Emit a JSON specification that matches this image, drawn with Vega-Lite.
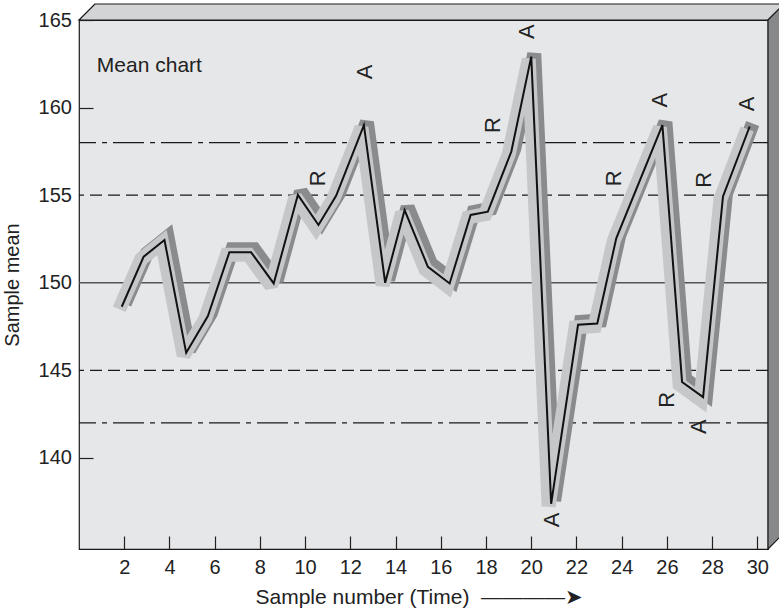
{
  "$schema": "https://vega.github.io/schema/vega-lite/v6.json",
  "width": 689,
  "height": 529,
  "autosize": {"type": "none"},
  "padding": {"left": 79, "top": 20, "right": 11, "bottom": 66},
  "background": "white",
  "config": {
    "view": {"fill": "#e6e7e8", "stroke": "#1a1a1a", "strokeWidth": 1.2},
    "font": "Liberation Sans",
    "axis": {"grid": false, "domain": false}
  },
  "datasets": {
    "means": [
      {"sample": 1.89, "mean": 148.63},
      {"sample": 2.86, "mean": 151.49},
      {"sample": 3.78, "mean": 152.44},
      {"sample": 4.74, "mean": 146.0},
      {"sample": 5.7, "mean": 148.1},
      {"sample": 6.65, "mean": 151.74},
      {"sample": 7.61, "mean": 151.74},
      {"sample": 8.61, "mean": 149.96},
      {"sample": 9.68, "mean": 155.02},
      {"sample": 10.59, "mean": 153.3},
      {"sample": 11.37, "mean": 154.96},
      {"sample": 12.6, "mean": 159.0},
      {"sample": 13.54, "mean": 150.0},
      {"sample": 14.4, "mean": 154.15},
      {"sample": 15.43, "mean": 150.91},
      {"sample": 16.39, "mean": 149.96},
      {"sample": 17.32, "mean": 153.87},
      {"sample": 18.08, "mean": 154.06},
      {"sample": 19.12, "mean": 157.49},
      {"sample": 20.0, "mean": 162.91},
      {"sample": 20.88, "mean": 137.38},
      {"sample": 22.07, "mean": 147.6},
      {"sample": 22.92, "mean": 147.67},
      {"sample": 23.76, "mean": 152.54},
      {"sample": 25.8, "mean": 159.0},
      {"sample": 26.67, "mean": 144.33},
      {"sample": 27.6, "mean": 143.47},
      {"sample": 28.48, "mean": 154.93},
      {"sample": 29.66, "mean": 158.92}
    ],
    "limits": [
      {"value": 158, "line": "upper action"},
      {"value": 155, "line": "upper warning"},
      {"value": 150, "line": "centre"},
      {"value": 145, "line": "lower warning"},
      {"value": 142, "line": "lower action"}
    ],
    "flags": [
      {"sample": 12.66, "mean": 162.03, "flag": "A"},
      {"sample": 10.59, "mean": 155.96, "flag": "R"},
      {"sample": 19.81, "mean": 164.33, "flag": "A"},
      {"sample": 18.33, "mean": 159.0, "flag": "R"},
      {"sample": 25.7, "mean": 160.43, "flag": "A"},
      {"sample": 23.64, "mean": 155.96, "flag": "R"},
      {"sample": 29.54, "mean": 160.21, "flag": "A"},
      {"sample": 27.62, "mean": 155.87, "flag": "R"},
      {"sample": 26.0, "mean": 143.31, "flag": "R"},
      {"sample": 27.4, "mean": 141.79, "flag": "A"},
      {"sample": 20.92, "mean": 136.46, "flag": "A"}
    ],
    "topFace": [
      {"sample": 0, "sample2": 30.47, "mean": 165},
      {"sample": 0.708, "sample2": 31.178, "mean": 165.913}
    ],
    "sideFace": [
      {"sample": 30.47, "mean": 134.8, "mean2": 165},
      {"sample": 31.178, "mean": 135.713, "mean2": 165.913}
    ],
    "note": [
      {"sample": 0.79, "mean": 162.05, "label": "Mean chart"}
    ]
  },
  "layer": [
    {
      "data": {"name": "means"},
      "mark": {"type": "line", "color": "#111111", "strokeWidth": 0, "opacity": 0},
      "encoding": {
        "x": {
          "field": "sample", "type": "quantitative",
          "scale": {"domain": [0, 30.47], "nice": false, "zero": false},
          "axis": {
            "title": "Sample number (Time)\u00a0\u00a0————➤",
            "values": [2, 4, 6, 8, 10, 12, 14, 16, 18, 20, 22, 24, 26, 28, 30],
            "grid": false, "domain": false,
            "tickSize": -13, "tickColor": "#222222", "tickWidth": 1.2,
            "labelPadding": 21.5, "labelFontSize": 20, "labelColor": "#222222", "labelFont": "Liberation Sans",
            "titleFont": "Liberation Sans", "titleFontSize": 21, "titleFontWeight": "normal", "titleColor": "#222222",
            "titleX": 176, "titleY": 54.7, "titleAlign": "left", "titleBaseline": "alphabetic"
          }
        },
        "y": {
          "field": "mean", "type": "quantitative",
          "scale": {"domain": [134.8, 165], "nice": false, "zero": false},
          "axis": {
            "title": "Sample mean",
            "values": [140, 145, 150, 155, 160, 165],
            "grid": false, "domain": false,
            "tickSize": -14, "tickColor": "#222222", "tickWidth": 1.2,
            "tickOpacity": {"condition": {"test": "datum.value == 145 || datum.value == 155 || datum.value == 150", "value": 0}, "value": 1},
            "labelPadding": 21.6, "labelFontSize": 20, "labelColor": "#222222", "labelFont": "Liberation Sans",
            "titleFont": "Liberation Sans", "titleFontSize": 20, "titleFontWeight": "normal", "titleColor": "#222222",
            "titleX": -60.5, "titleY": 264.5, "titleAngle": 270, "titleAlign": "center", "titleBaseline": "alphabetic"
          }
        }
      }
    },
    {
      "data": {"name": "topFace"},
      "mark": {"type": "area", "orient": "horizontal", "fill": "#d3d4d5", "stroke": "#1a1a1a", "strokeWidth": 1.2},
      "encoding": {
        "y": {"field": "mean", "type": "quantitative"},
        "x": {"field": "sample", "type": "quantitative"},
        "x2": {"field": "sample2"}
      }
    },
    {
      "data": {"name": "sideFace"},
      "mark": {"type": "area", "orient": "vertical", "fill": "#87888a", "stroke": "#1a1a1a", "strokeWidth": 1.2},
      "encoding": {
        "x": {"field": "sample", "type": "quantitative"},
        "y": {"field": "mean", "type": "quantitative"},
        "y2": {"field": "mean2"}
      }
    },
    {
      "data": {"name": "limits"},
      "mark": {"type": "rule", "strokeWidth": 1.3},
      "encoding": {
        "y": {"field": "value", "type": "quantitative"},
        "strokeDash": {
          "field": "line", "type": "nominal", "legend": null,
          "scale": {
            "domain": ["upper action", "upper warning", "centre", "lower warning", "lower action"],
            "range": [[31, 6, 5, 6], [12, 6], [1, 0], [12, 6], [31, 6, 5, 6]]
          }
        },
        "color": {
          "field": "line", "type": "nominal", "legend": null,
          "scale": {
            "domain": ["upper action", "upper warning", "centre", "lower warning", "lower action"],
            "range": ["#1a1a1a", "#1a1a1a", "#555555", "#1a1a1a", "#1a1a1a"]
          }
        }
      }
    },
    {
      "data": {"name": "means"},
      "mark": {"type": "line", "color": "#8a8b8d", "strokeWidth": 14, "strokeJoin": "miter", "strokeMiterLimit": 2, "strokeCap": "butt", "xOffset": 3, "yOffset": -3},
      "encoding": {
        "x": {"field": "sample", "type": "quantitative"},
        "y": {"field": "mean", "type": "quantitative"}
      }
    },
    {
      "data": {"name": "means"},
      "mark": {"type": "line", "color": "#c6c7c8", "strokeWidth": 14, "strokeJoin": "miter", "strokeMiterLimit": 2, "strokeCap": "butt", "xOffset": -2.5, "yOffset": 2.5},
      "encoding": {
        "x": {"field": "sample", "type": "quantitative"},
        "y": {"field": "mean", "type": "quantitative"}
      }
    },
    {
      "data": {"name": "means"},
      "mark": {"type": "line", "color": "#111111", "strokeWidth": 2, "strokeJoin": "miter", "strokeMiterLimit": 4},
      "encoding": {
        "x": {"field": "sample", "type": "quantitative"},
        "y": {"field": "mean", "type": "quantitative"}
      }
    },
    {
      "data": {"name": "flags"},
      "mark": {"type": "text", "angle": 270, "fontSize": 22, "font": "Liberation Sans", "color": "#222222", "align": "center", "baseline": "middle"},
      "encoding": {
        "x": {"field": "sample", "type": "quantitative"},
        "y": {"field": "mean", "type": "quantitative"},
        "text": {"field": "flag"}
      }
    },
    {
      "data": {"name": "note"},
      "mark": {"type": "text", "fontSize": 21, "font": "Liberation Sans", "color": "#222222", "align": "left", "baseline": "alphabetic"},
      "encoding": {
        "x": {"field": "sample", "type": "quantitative"},
        "y": {"field": "mean", "type": "quantitative"},
        "text": {"field": "label"}
      }
    }
  ]
}
